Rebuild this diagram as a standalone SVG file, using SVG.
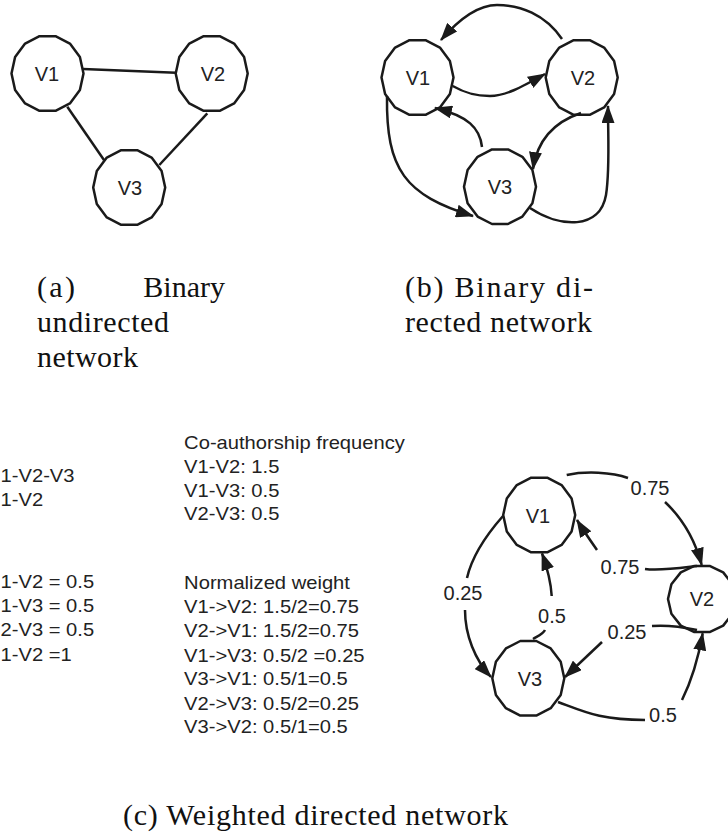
<svg xmlns="http://www.w3.org/2000/svg" width="728" height="832" viewBox="0 0 728 832">
<style>
.n{fill:#fff;stroke:#1a1a1a;stroke-width:2.5;stroke-linejoin:round}
.nl{font-family:"Liberation Sans",Arial,sans-serif;font-size:20px;fill:#222;text-anchor:middle}
.e{fill:none;stroke:#1a1a1a;stroke-width:2.5}
.a{marker-end:url(#ah)}
.el{font-family:"Liberation Sans",Arial,sans-serif;font-size:20px;fill:#222;text-anchor:middle}
.t{font-family:"Liberation Sans",Arial,sans-serif;font-size:18px;fill:#222}
.cap{font-family:"Liberation Serif","Times New Roman",serif;font-size:30px;fill:#111}
</style>
<defs>
<polygon id="pg" points="8,-37.3 22.4,-29.9 32.4,-16.6 36,0 32.4,16.6 22.4,29.9 8,37.3 -8,37.3 -22.4,29.9 -32.4,16.6 -36,0 -32.4,-16.6 -22.4,-29.9 -8,-37.3"/>
<polygon id="pgs" points="7.6,-33.1 21.2,-26.6 30.6,-14.8 34,0 30.6,14.8 21.2,26.6 7.6,33.1 -7.6,33.1 -21.2,26.6 -30.6,14.8 -34,0 -30.6,-14.8 -21.2,-26.6 -7.6,-33.1"/>
<marker id="ah" viewBox="0 0 18 13" refX="17" refY="6.5" markerWidth="18" markerHeight="13" markerUnits="userSpaceOnUse" orient="auto"><path d="M0,0 L18,6.5 L0,13 z" fill="#1a1a1a"/></marker>
</defs>

<!-- Panel (a) nodes -->
<g id="a-V1"><use href="#pg" class="n" x="47.5" y="73.5"/><text class="nl" x="47" y="80.5">V1</text></g>
<g id="a-V2"><use href="#pg" class="n" x="211.7" y="73.5"/><text class="nl" x="213" y="80.5">V2</text></g>
<g id="a-V3"><use href="#pg" class="n" x="129.2" y="187.5"/><text class="nl" x="130" y="194.5">V3</text></g>

<!-- Panel (b) nodes -->
<g id="b-V1"><use href="#pg" class="n" x="417.5" y="77.5"/><text class="nl" x="418" y="84.5">V1</text></g>
<g id="b-V2"><use href="#pg" class="n" x="581.7" y="77.5"/><text class="nl" x="583" y="84.5">V2</text></g>
<g id="b-V3"><use href="#pg" class="n" x="500" y="186.7"/><text class="nl" x="500" y="194">V3</text></g>

<!-- Panel (c) nodes -->
<g id="c-V1"><use href="#pg" class="n" x="539.2" y="515"/><text class="nl" x="538" y="523">V1</text></g>
<g id="c-V2"><use href="#pgs" class="n" x="702" y="599"/><text class="nl" x="702" y="606">V2</text></g>
<g id="c-V3"><use href="#pg" class="n" x="528.3" y="678.3"/><text class="nl" x="530" y="686">V3</text></g>

<!-- Connectors -->
<g id="connectors">
  <!-- (a) undirected -->
  <path class="e" d="M83,69 L176,72.7"/>
  <path class="e" d="M67.3,106.7 L104,160"/>
  <path class="e" d="M207.3,113.3 L159.3,165"/>
  <!-- (b) directed -->
  <path class="e a" d="M562,39 C545,14 520,5 497,5 C478,5 460,18 441,40"/>
  <path class="e a" d="M452.7,86 C465,93 475,96 490,96 C505,96 520,88 545,74"/>
  <path class="e a" d="M482,147 C480,128 468,116 435,108"/>
  <path class="e a" d="M581,113 C560,120 538,135 533,169"/>
  <path class="e a" d="M387,96 C386,170 405,195 473,216"/>
  <path class="e a" d="M530,208 C560,228 600,230 606,195 C610,170 608,140 608,106"/>
  <!-- (c) weighted directed -->
  <path class="e" d="M566.7,475 C585,471 612,472 628,478"/>
  <path class="e a" d="M665,502 C682,518 695,540 701.7,565"/>
  <path class="e" d="M697,566 C680,568 660,571 645,569"/>
  <path class="e a" d="M597,550 C590,540 583,530 577,520"/>
  <path class="e" d="M503,516 C488,533 472,556 467,578"/>
  <path class="e a" d="M465,610 C465,635 475,660 491,677"/>
  <path class="e" d="M533,639 C538,636 543,634 545,630"/>
  <path class="e a" d="M551.7,596 C551,583 548,570 542,553.3"/>
  <path class="e" d="M697,630 C683,627 665,625 652,626"/>
  <path class="e a" d="M602,642 L565,677"/>
  <path class="e" d="M558,702 C585,712 600,720 645,720"/>
  <path class="e a" d="M682,700 C692,680 698,660 702.7,633.3"/>
</g>

<!-- Edge labels (c) -->
<g id="edge-labels">
  <text class="el" x="650" y="495">0.75</text>
  <text class="el" x="620" y="574">0.75</text>
  <text class="el" x="463" y="600">0.25</text>
  <text class="el" x="552" y="623">0.5</text>
  <text class="el" x="627" y="639">0.25</text>
  <text class="el" x="663" y="722">0.5</text>
</g>

<!-- Text columns -->
<g id="text-columns" class="t" transform="scale(1.12 1)">
  <text x="0.5" y="482">1-V2-V3</text>
  <text x="0.5" y="506">1-V2</text>
  <text x="0.5" y="588">1-V2 = 0.5</text>
  <text x="0.5" y="612">1-V3 = 0.5</text>
  <text x="0.5" y="636">2-V3 = 0.5</text>
  <text x="0.5" y="661">1-V2 =1</text>

  <text x="164.4" y="449">Co-authorship frequency</text>
  <text x="164.4" y="473">V1-V2: 1.5</text>
  <text x="164.4" y="497">V1-V3: 0.5</text>
  <text x="164.4" y="520">V2-V3: 0.5</text>
  <text x="164.4" y="589">Normalized weight</text>
  <text x="164.4" y="613">V1-&gt;V2: 1.5/2=0.75</text>
  <text x="164.4" y="637">V2-&gt;V1: 1.5/2=0.75</text>
  <text x="164.4" y="662">V1-&gt;V3: 0.5/2 =0.25</text>
  <text x="164.4" y="685">V3-&gt;V1: 0.5/1=0.5</text>
  <text x="164.4" y="710">V2-&gt;V3: 0.5/2=0.25</text>
  <text x="164.4" y="733">V3-&gt;V2: 0.5/1=0.5</text>
</g>

<!-- Captions -->
<g id="captions" class="cap">
  <text x="37" y="297" textLength="38">(a)</text>
  <text x="225" y="297" text-anchor="end">Binary</text>
  <text x="37" y="332" textLength="132">undirected</text>
  <text x="37" y="367" textLength="101">network</text>
  <text x="405" y="297" textLength="188">(b) Binary di-</text>
  <text x="405" y="332" textLength="187">rected network</text>
  <text x="123" y="825" textLength="385">(c) Weighted directed network</text>
</g>
</svg>
